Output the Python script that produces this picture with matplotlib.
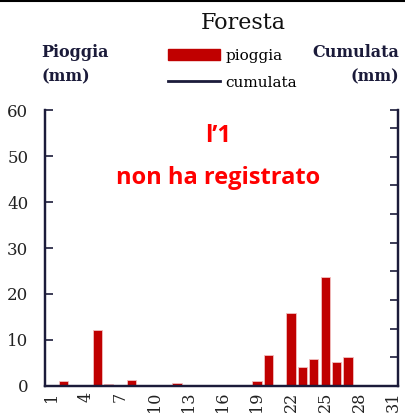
import matplotlib
matplotlib.use("Agg")
import matplotlib.pyplot as plt
from matplotlib.lines import Line2D
from matplotlib.patches import Patch

# daily rain (mm), days 1..31
days = list(range(1, 32))
pioggia = [0, 1.0, 0, 0, 12.1, 0.4, 0, 1.2, 0, 0,
           0, 0.6, 0, 0, 0, 0, 0, 0, 1.0, 6.7,
           0, 15.9, 4.2, 5.9, 23.8, 5.3, 6.3, 0, 0, 0,
           0]
tick_days = list(range(1, 32, 3))
left_ticks = [0, 10, 20, 30, 40, 50, 60]
right_ticks = [0, 10, 20, 30, 40, 50, 60, 70, 80, 90, 96.2]

RED = "#C00000"
NAVY = "#1B1B3A"
SERIF = "DejaVu Serif"

fig = plt.figure(figsize=(4.05, 4.19), dpi=100)
ax = fig.add_axes([0.111, 0.079, 0.872, 0.658])
ax.bar(days, pioggia, width=0.82, color=RED, edgecolor="#F2C0C0", linewidth=0.6, zorder=2)

ax.set_xlim(0.4, 31.4)
ax.set_ylim(0, 60)
ax.set_yticks(left_ticks)
ax.set_xticks(tick_days)
ax.set_xticklabels([str(d) for d in tick_days], rotation=90, family=SERIF, fontsize=11.5)
ax.tick_params(axis="x", length=0, pad=4, colors="#222222")
ax.tick_params(axis="y", direction="in", length=6, width=1.2, color=NAVY, labelsize=12, pad=12)
for lab in ax.get_yticklabels():
    lab.set_family(SERIF)
    lab.set_color("#222222")

ax.spines["top"].set_visible(False)
for s in ["left", "right", "bottom"]:
    ax.spines[s].set_color(NAVY)
    ax.spines[s].set_linewidth(1.6)

ax2 = ax.twinx()
ax2.set_ylim(0, 96.2)
ax2.set_yticks(right_ticks)
ax2.set_yticklabels([])
ax2.tick_params(axis="y", direction="in", length=6, width=1.2, color=NAVY)
ax2.spines["top"].set_visible(False)
for s in ["left", "right", "bottom"]:
    ax2.spines[s].set_color(NAVY)
    ax2.spines[s].set_linewidth(1.6)

fig.text(0.60, 0.945, "Foresta", ha="center", va="center", family=SERIF, fontsize=16, color="#111111")
fig.text(0.103, 0.845, "Pioggia\n(mm)", ha="left", va="center", family=SERIF,
         fontsize=11.5, fontweight="bold", color=NAVY, linespacing=1.6)
fig.text(0.985, 0.845, "Cumulata\n(mm)", ha="right", va="center", family=SERIF,
         fontsize=11.5, fontweight="bold", color=NAVY, linespacing=1.6, multialignment="right")

handles = [Patch(facecolor=RED, edgecolor=RED),
           Line2D([0], [0], color=NAVY, linewidth=2)]
fig.legend(handles, ["pioggia", "cumulata"], loc="center", bbox_to_anchor=(0.575, 0.835),
           frameon=False, prop={"family": SERIF, "size": 11}, handlelength=3.4,
           handleheight=0.7, handletextpad=0.35, labelspacing=0.85)

ax.text(0.49, 0.905, "l\u20191", transform=ax.transAxes, ha="center", va="center",
        family="Open Sans", fontweight="bold", fontsize=17, color="#FF0000")
ax.text(0.49, 0.755, "non ha registrato", transform=ax.transAxes, ha="center", va="center",
        family="Open Sans", fontweight="bold", fontsize=17, color="#FF0000")

fig.add_artist(Line2D([0, 1], [0.998, 0.998], color="black", linewidth=1.5, transform=fig.transFigure))

fig.savefig("out.png", dpi=100)
